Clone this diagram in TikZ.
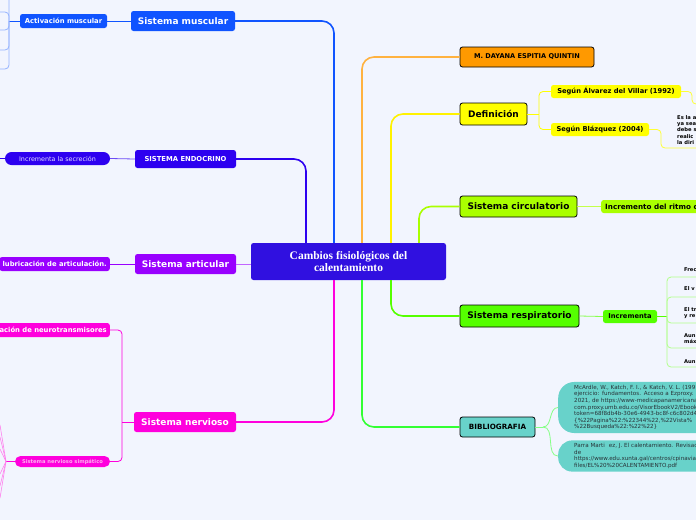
\documentclass[tikz,border=0pt]{standalone}
\usepackage{fontspec}
\setmainfont{DejaVu Sans}
\newfontfamily\titlefont{Liberation Serif}
\definecolor{bg}{RGB}{242,245,254}
\definecolor{cen}{RGB}{48,16,224}
\definecolor{mus}{RGB}{16,84,255}
\definecolor{endo}{RGB}{45,0,240}
\definecolor{art}{RGB}{153,0,255}
\definecolor{nerv}{RGB}{255,0,221}
\definecolor{ora}{RGB}{255,153,0}
\definecolor{yel}{RGB}{255,255,0}
\definecolor{lime}{RGB}{170,255,0}
\definecolor{grn}{RGB}{85,255,0}
\definecolor{teal}{RGB}{104,210,202}
\definecolor{bibl}{RGB}{51,255,51}
\definecolor{reftext}{RGB}{40,50,55}
\definecolor{inctext}{RGB}{225,220,255}
\definecolor{simptext}{RGB}{255,175,240}
\begin{document}
\begin{tikzpicture}[x=1pt,y=-1pt,
  box/.style={rectangle,rounded corners=2.5pt,inner sep=0pt,align=center},
  bigw/.style={box,text=white,font=\bfseries\fontsize{9}{10}\selectfont},
  smallw/.style={box,text=white,font=\bfseries\fontsize{6.8}{8}\selectfont},
  bigk/.style={box,draw=black,line width=0.8pt,font=\bfseries\fontsize{9}{10}\selectfont},
  smallk/.style={box,font=\bfseries\fontsize{6.7}{8}\selectfont},
  tiny/.style={inner sep=0pt,anchor=west,align=left,font=\bfseries\fontsize{5.2}{6.2}\selectfont},
  conn/.style={line width=1.6pt,rounded corners=12pt},
  sub/.style={line width=0.8pt,rounded corners=4pt}]
\useasboundingbox (0,0) rectangle (696,520);
\fill[bg] (0,0) rectangle (696,520);
\clip (0,0) rectangle (696,520);

% central
\node[box,fill=cen,minimum width=195,minimum height=37,text=white,
  font=\titlefont\bfseries\fontsize{11.5}{12}\selectfont] (cen) at (348.5,261.5)
  {Cambios fisiológicos del\\calentamiento};

% left branches
\node[bigw,fill=mus,minimum width=104,minimum height=20] (mus) at (183,21) {Sistema muscular};
\node[smallw,fill=mus,minimum width=87,minimum height=14] (act) at (63.5,21) {Activación muscular};
\node[box,fill=endo,minimum width=101,minimum height=18,text=white,
  font=\bfseries\fontsize{6.8}{8}\selectfont] (endo) at (185.5,159) {SISTEMA ENDOCRINO};
\node[box,rounded corners=6.5pt,fill=endo,minimum width=105,minimum height=13,
  text=inctext,font=\fontsize{6.4}{8}\selectfont] (inc) at (57.5,158.5) {Incrementa la secreción};
\node[bigw,fill=art,minimum width=101,minimum height=20] (art) at (185.5,264) {Sistema articular};
\node[smallw,fill=art,minimum height=14,inner xsep=3pt,anchor=east] (lub) at (110,264) {lubricación de articulación.};
\node[smallw,fill=nerv,minimum height=14,inner xsep=3pt,anchor=east] (neuro) at (110,330) {ación de neurotransmisores};
\node[bigw,fill=nerv,minimum width=102,minimum height=20] (nerv) at (185,422) {Sistema nervioso};
\node[box,rounded corners=5.5pt,fill=nerv,minimum width=95,minimum height=11,
  text=simptext,font=\bfseries\fontsize{5.2}{6}\selectfont] (simp) at (62.5,461.5) {Sistema nervioso simpático};

% right branches
\node[box,draw=black,line width=0.8pt,fill=ora,minimum width=134,minimum height=20,
  font=\bfseries\fontsize{6.6}{8}\selectfont] (day) at (527,57) {M. DAYANA ESPITIA QUINTIN};
\node[bigk,fill=yel,minimum width=67,minimum height=22] (def) at (493.5,114) {Definición};
\node[smallk,fill=yel,minimum width=130,minimum height=13] (alv) at (616,91.5) {Según Álvarez del Villar (1992)};
\node[smallk,fill=yel,minimum width=98,minimum height=13] (bla) at (600,129.5) {Según Blázquez (2004)};
\node[tiny] (deft) at (677,130) {Es la a\\ya sea\\debe s\\realic\\la diri};
\node[bigk,fill=lime,minimum width=117,minimum height=21] (circ) at (518.5,206.5) {Sistema circulatorio};
\node[smallk,fill=lime,minimum height=13,minimum width=100,anchor=west,inner xsep=4pt,
  font=\bfseries\fontsize{7.2}{8}\selectfont] (rit) at (601,206.5) {Incremento del ritmo c};
\node[bigk,fill=grn,minimum width=119,minimum height=22] (resp) at (519.5,316) {Sistema respiratorio};
\node[smallk,fill=grn,minimum width=54,minimum height=13] (incm) at (630,316.5) {Incrementa};
\node[tiny] (r1) at (684,270) {Frec};
\node[tiny] (r2) at (684,289) {El v};
\node[tiny] (r3) at (684,313) {El tr\\y re};
\node[tiny] (r4) at (684,339) {Aun\\máx};
\node[tiny] (r5) at (684,362) {Aun};
\node[box,draw=black,line width=0.8pt,fill=teal,minimum width=75,minimum height=20,
  font=\bfseries\fontsize{7.2}{8}\selectfont] (bib) at (497.5,427) {BIBLIOGRAFIA};
\node[rectangle,rounded corners=16pt,fill=teal,anchor=west,inner xsep=16pt,inner ysep=3pt,
  text width=150,minimum height=49,align=left,text=reftext,
  font=\fontsize{5.6}{6.6}\selectfont] (ref1) at (558,407.5)
  {McArdle, W., Katch, F. I., \& Katch, V. L. (199\\
   ejercicio: fundamentos. Acceso a Ezproxy. R\\
   2021, de https://www-medicapanamericana\\
   com.proxy.umb.edu.co/VisorEbookV2/Ebook\\
   token=68f8db4b-30e6-4943-bc8f-c6c802d4\\
   \{\%22Pagina\%22:\%22344\%22,\%22Vista\%\\
   \%22Busqueda\%22:\%22\%22\}};
\node[rectangle,rounded corners=14pt,fill=teal,anchor=west,inner xsep=16pt,inner ysep=3pt,
  text width=150,minimum height=30,align=left,text=reftext,
  font=\fontsize{5.6}{6.6}\selectfont] (ref2) at (558,456)
  {Parra Marti\hspace{4pt}ez, J. El calentamiento. Revisad\\
   de\\
   https://www.edu.xunta.gal/centros/cpinavia\\
   files/EL\%20\%20CALENTAMIENTO.pdf};

% main connectors
\draw[conn,mus] (mus.east) -| ([xshift=-14.5pt]cen.north);
\draw[conn,endo] (endo.east) -| ([xshift=-42.5pt]cen.north);
\draw[line width=0.8pt,art!60] (art.east) -- (art.east -| cen.west);
\draw[conn,nerv] (nerv.east) -| ([xshift=-14.5pt]cen.south);
\draw[conn,ora!75] (day.west) -| ([xshift=13.5pt]cen.north);
\draw[conn,yel!90!orange] (def.west) -| ([xshift=42.5pt]cen.north);
\draw[conn,lime] (circ.west) -| ([xshift=70.5pt]cen.north);
\draw[conn,grn] (resp.west) -| ([xshift=42.5pt]cen.south);
\draw[conn,bibl] (bib.west) -| ([xshift=13.5pt]cen.south);

% left sub connectors
\draw[sub,mus] (act.east) -- (mus.west);
\coordinate (mj) at (9,21);
\draw[sub,mus] (act.west) -- (mj);
\coordinate (m0) at (9,0);
\coordinate (m1) at (0,12);
\coordinate (m2) at (0,30);
\coordinate (m3) at (0,50);
\coordinate (m4) at (0,69);
\draw[sub,mus!45] (m0) |- (m4);
\draw[sub,mus!45] (m1) -| (mj);
\draw[sub,mus!45] (m2) -| (mj);
\draw[sub,mus!45] (m3) -| (mj);
\coordinate (ie) at (0,158.5);
\draw[sub,endo!70] (inc.east) -- (endo.west);
\draw[sub,endo] (inc.west) -- (ie);
\draw[sub,art] (lub.east) -- (art.west);
\coordinate (nj) at (122,422);
\draw[sub,nerv] (neuro.east) -| (nj) |- (simp.east);
\draw[sub,nerv] (nerv.west) -- (nj);
\coordinate (sj) at (6,461.5);
\draw[sub,nerv] (simp.west) -- (sj);
\foreach \yy in {425,437,449,474,486,498}{
  \coordinate (f) at (0,\yy);
  \draw[line width=0.6pt,nerv!50] (sj) -- (f);
}

% right sub connectors
\coordinate (dj) at (539,114);
\draw[sub,yel] (def.east) -- (dj);
\draw[sub,yel] (alv.west) -| (dj) |- (bla.west);
\coordinate (a1) at (692,104);
\coordinate (a2) at (700,104);
\draw[sub,yel!80!white] (alv.east) -| (a1) -- (a2);
\coordinate (b1) at (661,148);
\coordinate (b2) at (700,148);
\draw[sub,yel!80!white] (bla.east) -| (b1) -- (b2);
\draw[sub,lime!70!white] (circ.east) -- (rit.west);
\draw[sub,grn!70!white] (resp.east) -- (incm.west);
\coordinate (ij) at (667,316.5);
\draw[sub,grn] (incm.east) -- (ij);
\foreach \yy in {277,297,323,348,367}{
  \coordinate (u) at (700,\yy);
  \draw[sub,grn!45!white] (ij) |- (u);
}
\coordinate (bj) at (543,427);
\draw[line width=0.8pt,bibl!60] (bib.east) -- (bj);
\draw[line width=0.8pt,bibl!60] (bj) to[out=0,in=180] (ref1.west);
\draw[line width=0.8pt,bibl!60] (bj) to[out=0,in=180] (ref2.west);
\end{tikzpicture}
\end{document}
